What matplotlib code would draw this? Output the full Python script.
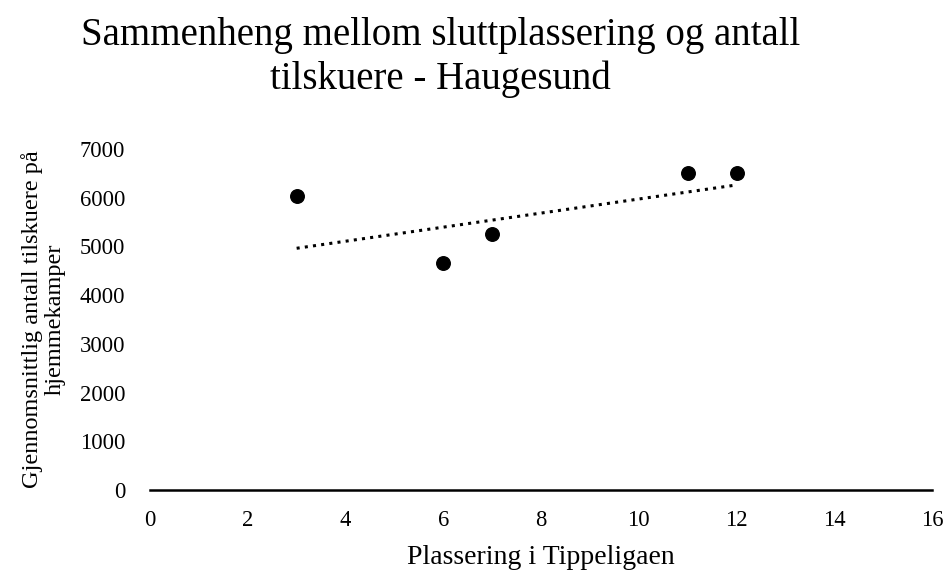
import matplotlib.pyplot as plt

# Haugesund: final league position vs. average home attendance
plassering = [3, 6, 7, 11, 12]
tilskuere = [6040, 4660, 5255, 6515, 6515]

# dotted linear trend line, endpoints
trend_x = [3, 12]
trend_y = [4962, 6262]

plt.rcParams['font.family'] = ['Liberation Serif', 'DejaVu Serif']

fig = plt.figure(figsize=(9.47, 5.70), dpi=100)
ax = fig.add_axes([0.1584, 0.1404, 0.8258, 0.5982])

ax.scatter(plassering, tilskuere, s=95, color='black', zorder=3)
ax.plot(trend_x, trend_y, color='black', linewidth=2.2, linestyle=(0, (1, 1.7)))

ax.set_xlim(0, 16)
ax.set_ylim(0, 7000)
ax.set_xticks(range(0, 17, 2))
ax.set_yticks(range(0, 7001, 1000))

for side in ['top', 'right', 'left']:
    ax.spines[side].set_visible(False)
ax.spines['bottom'].set_linewidth(1.8)
ax.tick_params(axis='both', length=0, labelsize=16.3)
ax.tick_params(axis='x', pad=14.5)
ax.tick_params(axis='y', pad=18)

ax.set_xlabel('Plassering i Tippeligaen', fontsize=20, labelpad=10)
ax.set_ylabel('Gjennomsnittlig antall tilskuere på\nhjemmekamper', fontsize=17.5,
              labelpad=10, linespacing=1.1)

fig.text(0.465, 0.9693, 'Sammenheng mellom sluttplassering og antall\ntilskuere - Haugesund',
         ha='center', va='top', fontsize=28, linespacing=1.2)

plt.savefig('out.png', dpi=100)
